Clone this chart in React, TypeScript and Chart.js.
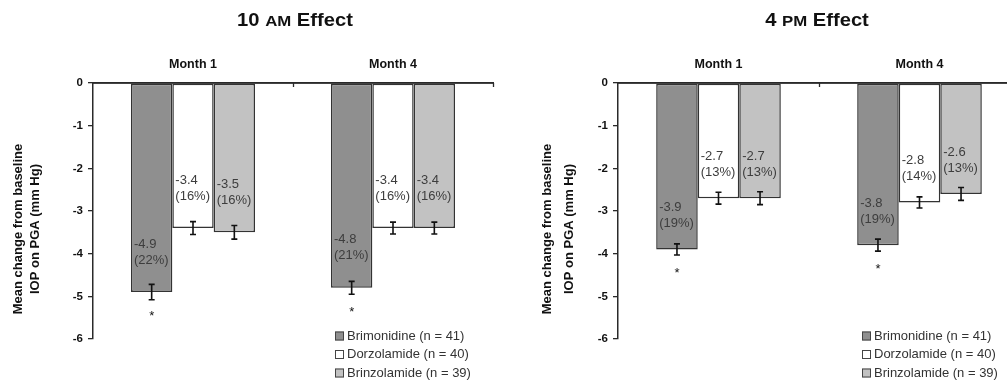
import React, { useEffect, useRef } from 'react';
import { Chart, registerables } from 'chart.js';

Chart.register(...registerables);

// ---------- data ----------
const categories = ['Month 1', 'Month 4'];
const seriesNames = ['Brimonidine (n = 41)', 'Dorzolamide (n = 40)', 'Brinzolamide (n = 39)'];
const yTicks = [0, -1, -2, -3, -4, -5, -6];
const yTitleLines = ['Mean change from baseline', 'IOP on PGA (mm Hg)'];
const significant = [true, false, false];

// 10 AM effect
const am10Title = ['10 ', 'AM', ' Effect'];
const am10Brimonidine = [-4.9, -4.8];
const am10Dorzolamide = [-3.4, -3.4];
const am10Brinzolamide = [-3.5, -3.4];
const am10BrimonidinePct = [22, 21];
const am10DorzolamidePct = [16, 16];
const am10BrinzolamidePct = [16, 16];
const am10BrimonidineErr = [0.18, 0.15];
const am10DorzolamideErr = [0.15, 0.14];
const am10BrinzolamideErr = [0.16, 0.14];

// 4 PM effect
const pm4Title = ['4 ', 'PM', ' Effect'];
const pm4Brimonidine = [-3.9, -3.8];
const pm4Dorzolamide = [-2.7, -2.8];
const pm4Brinzolamide = [-2.7, -2.6];
const pm4BrimonidinePct = [19, 19];
const pm4DorzolamidePct = [13, 14];
const pm4BrinzolamidePct = [13, 13];
const pm4BrimonidineErr = [0.13, 0.14];
const pm4DorzolamideErr = [0.14, 0.13];
const pm4BrinzolamideErr = [0.15, 0.15];

// ---------- styles ----------
const FONT = '"Liberation Sans", Arial, Helvetica, sans-serif';
const fills = ['#8f8f8f', '#ffffff', '#c2c2c2'];
const BORDER = '#333333';
const AXIS = '#2a2a2a';

type PanelCfg = {
  left: number;
  width: number;
  axisWidth: number;
  padRight: number;
  title: string[];
  titleX: number;
  yTitleX: number[];
  labelOffset: number;
  legendX: number;
  values: number[][];
  pcts: number[][];
  errs: number[][];
};

const panels: PanelCfg[] = [
  {
    left: 0,
    width: 500,
    axisWidth: 93,
    padRight: 7,
    title: am10Title,
    titleX: 295,
    yTitleX: [18.7, 35.5],
    labelOffset: 48,
    legendX: 335,
    values: [am10Brimonidine, am10Dorzolamide, am10Brinzolamide],
    pcts: [am10BrimonidinePct, am10DorzolamidePct, am10BrinzolamidePct],
    errs: [am10BrimonidineErr, am10DorzolamideErr, am10BrinzolamideErr],
  },
  {
    left: 500,
    width: 530,
    axisWidth: 118,
    padRight: 10,
    title: pm4Title,
    titleX: 317,
    yTitleX: [47.5, 69.5],
    labelOffset: 42,
    legendX: 362,
    values: [pm4Brimonidine, pm4Dorzolamide, pm4Brinzolamide],
    pcts: [pm4BrimonidinePct, pm4DorzolamidePct, pm4BrinzolamidePct],
    errs: [pm4BrimonidineErr, pm4DorzolamideErr, pm4BrinzolamideErr],
  },
];

function makePlugin(cfg: PanelCfg) {
  return {
    id: 'decor' + cfg.left,
    afterDatasetsDraw(chart: any) {
      const ctx: CanvasRenderingContext2D = chart.ctx;
      const area = chart.chartArea;
      const y = chart.scales.y;
      ctx.save();

      // top axis line redrawn over bars
      ctx.strokeStyle = AXIS;
      ctx.lineWidth = 1.5;
      ctx.beginPath();
      ctx.moveTo(area.left, area.top);
      ctx.lineTo(area.right, area.top);
      ctx.stroke();

      // category divider ticks pointing down
      const n = categories.length;
      const cw = (area.right - area.left) / n;
      ctx.lineWidth = 1.3;
      for (let i = 1; i <= n; i++) {
        const px = Math.round(area.left + i * cw) + 0.5;
        ctx.beginPath();
        ctx.moveTo(px, area.top);
        ctx.lineTo(px, area.top + 4);
        ctx.stroke();
      }

      // error bars, value labels, asterisks
      chart.data.datasets.forEach((ds: any, di: number) => {
        const meta = chart.getDatasetMeta(di);
        meta.data.forEach((bar: any, i: number) => {
          const v = ds.data[i];
          const e = cfg.errs[di][i];
          const bx = bar.x;
          const yEnd = y.getPixelForValue(v);
          const y1 = y.getPixelForValue(v + e);
          const y2 = y.getPixelForValue(v - e);
          ctx.strokeStyle = '#111';
          ctx.lineWidth = 1.6;
          ctx.beginPath();
          ctx.moveTo(bx, y1);
          ctx.lineTo(bx, y2);
          ctx.moveTo(bx - 3, y1);
          ctx.lineTo(bx + 3, y1);
          ctx.moveTo(bx - 3, y2);
          ctx.lineTo(bx + 3, y2);
          ctx.stroke();

          // value labels
          ctx.fillStyle = '#3d3d3d';
          ctx.font = `13px ${FONT}`;
          ctx.textAlign = 'left';
          ctx.textBaseline = 'middle';
          const lx = bx - bar.width / 2 + 3;
          const ly = yEnd - cfg.labelOffset;
          ctx.fillText(v.toFixed(1), lx, ly);
          ctx.fillText(`(${cfg.pcts[di][i]}%)`, lx, ly + 16);

          if (significant[di]) {
            ctx.fillStyle = '#111';
            ctx.font = `13px ${FONT}`;
            ctx.textAlign = 'center';
            ctx.textBaseline = 'alphabetic';
            ctx.fillText('*', bx, yEnd + 28);
          }
        });
      });

      // title with small caps
      ctx.fillStyle = '#111';
      ctx.textBaseline = 'alphabetic';
      ctx.textAlign = 'left';
      const fontsT = cfg.title.map((_, k) => (k === 1 ? `bold 15px ${FONT}` : `bold 18px ${FONT}`));
      let total = 0;
      cfg.title.forEach((t, k) => {
        ctx.font = fontsT[k];
        total += ctx.measureText(t).width;
      });
      ctx.save();
      ctx.translate(cfg.titleX, 26);
      ctx.scale(1.12, 1);
      let cx = -total / 2;
      cfg.title.forEach((t, k) => {
        ctx.font = fontsT[k];
        ctx.fillText(t, cx, 0);
        cx += ctx.measureText(t).width;
      });
      ctx.restore();

      // y-axis title
      ctx.font = `bold 13px ${FONT}`;
      ctx.fillStyle = '#111';
      ctx.textAlign = 'center';
      ctx.textBaseline = 'middle';
      yTitleLines.forEach((line, k) => {
        ctx.save();
        ctx.translate(cfg.yTitleX[k], 229);
        ctx.rotate(-Math.PI / 2);
        ctx.fillText(line, 0, 0);
        ctx.restore();
      });

      // legend
      const rows = [336, 354.5, 373];
      seriesNames.forEach((name, k) => {
        const ry = rows[k];
        ctx.fillStyle = fills[k];
        ctx.fillRect(cfg.legendX, ry - 4.5, 9, 9);
        ctx.strokeStyle = '#444';
        ctx.lineWidth = 1;
        ctx.strokeRect(cfg.legendX + 0.5, ry - 4, 8, 8);
        ctx.fillStyle = '#333';
        ctx.font = `13px ${FONT}`;
        ctx.textAlign = 'left';
        ctx.textBaseline = 'middle';
        ctx.fillText(name, cfg.legendX + 12, ry);
      });

      ctx.restore();
    },
  };
}

function Panel({ cfg }: { cfg: PanelCfg }) {
  const ref = useRef<HTMLCanvasElement>(null);
  useEffect(() => {
    if (!ref.current) return;
    const chart = new Chart(ref.current, {
      type: 'bar',
      data: {
        labels: categories,
        datasets: seriesNames.map((name, k) => ({
          label: name,
          data: cfg.values[k],
          backgroundColor: fills[k],
          borderColor: BORDER,
          borderWidth: 1.5,
          borderSkipped: false,
          categoryPercentage: 0.62,
          barPercentage: 1.0,
        })),
      },
      options: {
        responsive: false,
        animation: false,
        devicePixelRatio: 1,
        layout: { padding: { left: 0, right: cfg.padRight, top: 0, bottom: 44 } },
        plugins: {
          legend: { display: false },
          title: { display: false },
          tooltip: { enabled: false },
        },
        scales: {
          x: {
            position: 'top',
            offset: true,
            grid: { display: false },
            border: { display: true, color: AXIS, width: 1.5 },
            ticks: {
              font: { family: FONT, size: 12.5, weight: 'bold' },
              color: '#111',
              padding: 3,
              maxRotation: 0,
            },
            afterFit: (s: any) => {
              s.height = 83;
            },
          },
          y: {
            min: -6,
            max: 0,
            afterBuildTicks: (s: any) => {
              s.ticks = yTicks.map((v) => ({ value: v }));
            },
            grid: {
              display: true,
              drawOnChartArea: false,
              drawTicks: true,
              tickLength: 5,
              color: AXIS,
              lineWidth: 1.3,
            },
            border: { display: true, color: AXIS, width: 1.5 },
            ticks: {
              font: { family: FONT, size: 11.5, weight: 'bold' },
              color: '#111',
              padding: 5,
              callback: (v: any) => String(v),
            },
            afterFit: (s: any) => {
              s.width = cfg.axisWidth;
            },
          },
        },
      } as any,
      plugins: [makePlugin(cfg)],
    });
    return () => chart.destroy();
  }, []);
  return (
    <canvas
      ref={ref}
      width={cfg.width}
      height={383}
      style={{ position: 'absolute', left: cfg.left, top: 0, width: cfg.width, height: 383 }}
    />
  );
}

export default function App() {
  return (
    <div
      style={{
        position: 'absolute',
        left: 0,
        top: 0,
        width: 1007,
        height: 383,
        overflow: 'hidden',
        background: '#ffffff',
      }}
    >
      {panels.map((p) => (
        <Panel key={p.left} cfg={p} />
      ))}
    </div>
  );
}
